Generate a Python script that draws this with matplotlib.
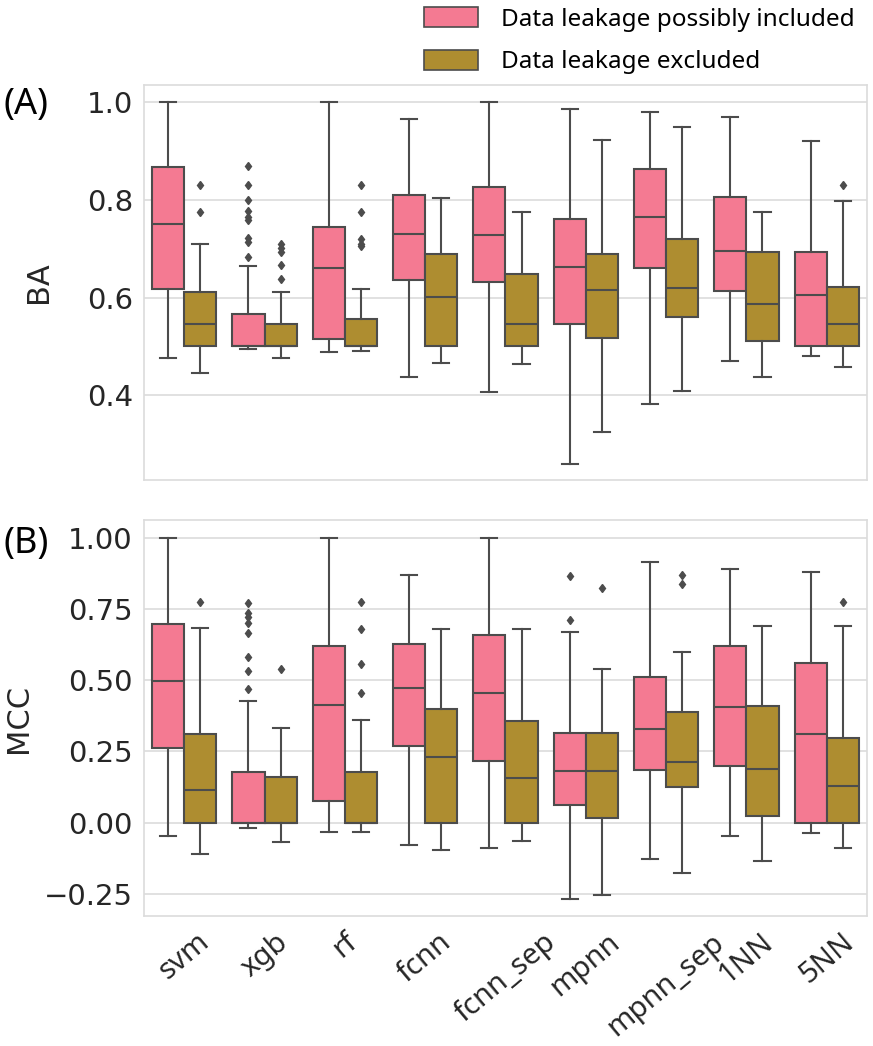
import matplotlib.pyplot as plt
from matplotlib.patches import Patch

# modele na osi x
models = ['svm', 'xgb', 'rf', 'fcnn', 'fcnn_sep', 'mpnn', 'mpnn_sep', '1NN', '5NN']
groups = ['Data leakage possibly included', 'Data leakage excluded']

# BA - data leakage possibly included
ba_inc_lo = [0.476, 0.495, 0.488, 0.438, 0.407, 0.260, 0.382, 0.471, 0.480]
ba_inc_q1 = [0.617, 0.500, 0.515, 0.636, 0.632, 0.546, 0.660, 0.613, 0.500]
ba_inc_med = [0.751, 0.500, 0.661, 0.731, 0.729, 0.662, 0.764, 0.696, 0.606]
ba_inc_q3 = [0.867, 0.566, 0.744, 0.810, 0.826, 0.761, 0.863, 0.807, 0.693]
ba_inc_hi = [1.000, 0.664, 1.000, 0.966, 1.000, 0.986, 0.981, 0.969, 0.921]
ba_inc_fliers = [[], [0.869, 0.831, 0.800, 0.778, 0.766, 0.759, 0.721, 0.714, 0.684],
                 [], [], [], [], [], [], []]

# BA - data leakage excluded
ba_exc_lo = [0.445, 0.476, 0.491, 0.465, 0.463, 0.324, 0.408, 0.437, 0.458]
ba_exc_q1 = [0.500, 0.500, 0.500, 0.500, 0.500, 0.517, 0.561, 0.512, 0.500]
ba_exc_med = [0.546, 0.500, 0.500, 0.601, 0.546, 0.616, 0.619, 0.586, 0.545]
ba_exc_q3 = [0.611, 0.546, 0.556, 0.689, 0.649, 0.690, 0.720, 0.693, 0.622]
ba_exc_hi = [0.709, 0.611, 0.617, 0.804, 0.776, 0.923, 0.950, 0.776, 0.797]
ba_exc_fliers = [[0.831, 0.776], [0.709, 0.701, 0.694, 0.667, 0.638],
                 [0.831, 0.776, 0.720, 0.710, 0.705], [], [], [], [], [], [0.831]]

# MCC - data leakage possibly included
mcc_inc_lo = [-0.048, -0.018, -0.034, -0.080, -0.088, -0.267, -0.129, -0.048, -0.036]
mcc_inc_q1 = [0.260, 0.000, 0.075, 0.267, 0.216, 0.060, 0.183, 0.199, 0.000]
mcc_inc_med = [0.496, 0.000, 0.413, 0.472, 0.455, 0.181, 0.329, 0.406, 0.309]
mcc_inc_q3 = [0.697, 0.179, 0.620, 0.625, 0.659, 0.314, 0.510, 0.618, 0.561]
mcc_inc_hi = [1.000, 0.425, 1.000, 0.870, 1.000, 0.670, 0.914, 0.890, 0.878]
mcc_inc_fliers = [[], [0.769, 0.734, 0.720, 0.701, 0.666, 0.582, 0.533, 0.469],
                  [], [], [], [0.866, 0.711], [], [], []]

# MCC - data leakage excluded
mcc_exc_lo = [-0.111, -0.068, -0.032, -0.095, -0.066, -0.254, -0.177, -0.136, -0.091]
mcc_exc_q1 = [0.000, 0.000, 0.000, 0.000, 0.000, 0.016, 0.124, 0.023, 0.000]
mcc_exc_med = [0.113, 0.000, 0.000, 0.230, 0.156, 0.181, 0.213, 0.188, 0.127]
mcc_exc_q3 = [0.309, 0.159, 0.179, 0.400, 0.357, 0.314, 0.389, 0.409, 0.298]
mcc_exc_hi = [0.681, 0.332, 0.360, 0.680, 0.680, 0.540, 0.597, 0.691, 0.688]
mcc_exc_fliers = [[0.775], [0.540], [0.775, 0.678, 0.556, 0.454], [], [],
                  [0.824], [0.868, 0.836], [], [0.775]]

colors = ['#f47a92', '#ae8d30']
line_col = '#4c4c4c'
grid_col = '#dcdcdc'
text_font = ['Noto Sans', 'DejaVu Sans']


def make_stats(lo, q1, med, q3, hi, fliers):
    stats = []
    for i in range(len(lo)):
        stats.append({'whislo': lo[i], 'q1': q1[i], 'med': med[i], 'q3': q3[i],
                      'whishi': hi[i], 'fliers': fliers[i]})
    return stats


def draw_panel(ax, inc, exc):
    for k, st in enumerate([inc, exc]):
        pos = [i - 0.2 + 0.4 * k for i in range(len(models))]
        ax.bxp(st, positions=pos, widths=0.4, patch_artist=True, manage_ticks=False,
               boxprops=dict(facecolor=colors[k], edgecolor=line_col, linewidth=1.5),
               medianprops=dict(color=line_col, linewidth=1.5),
               whiskerprops=dict(color=line_col, linewidth=1.5),
               capprops=dict(color=line_col, linewidth=1.5),
               flierprops=dict(marker='d', markersize=4.5, markerfacecolor=line_col,
                               markeredgecolor=line_col, linestyle='none'))
    ax.set_xlim(-0.5, len(models) - 0.5)
    ax.grid(axis='y', color=grid_col, linewidth=1.2)
    ax.set_axisbelow(True)
    for s in ax.spines.values():
        s.set_color(grid_col)
        s.set_linewidth(1.2)
    ax.tick_params(axis='both', length=0, labelsize=21, colors='#262626', pad=8)


fig = plt.figure(figsize=(8.73, 10.46), dpi=100)
ax1 = fig.add_axes([0.165, 0.541, 0.828, 0.378])
ax2 = fig.add_axes([0.165, 0.124, 0.828, 0.379])

draw_panel(ax1, make_stats(ba_inc_lo, ba_inc_q1, ba_inc_med, ba_inc_q3, ba_inc_hi, ba_inc_fliers),
           make_stats(ba_exc_lo, ba_exc_q1, ba_exc_med, ba_exc_q3, ba_exc_hi, ba_exc_fliers))
draw_panel(ax2, make_stats(mcc_inc_lo, mcc_inc_q1, mcc_inc_med, mcc_inc_q3, mcc_inc_hi, mcc_inc_fliers),
           make_stats(mcc_exc_lo, mcc_exc_q1, mcc_exc_med, mcc_exc_q3, mcc_exc_hi, mcc_exc_fliers))

ax1.set_ylim(0.226, 1.036)
ax1.set_yticks([0.4, 0.6, 0.8, 1.0])
ax1.set_xticks(range(len(models)))
ax1.set_xticklabels([])
ax1.set_ylabel('BA', fontsize=22, color='#262626')
ax1.yaxis.set_label_coords(-0.126, 0.5)

ax2.set_ylim(-0.329, 1.062)
ax2.set_yticks([-0.25, 0.0, 0.25, 0.5, 0.75, 1.0])
ax2.set_yticklabels(['\u22120.25', '0.00', '0.25', '0.50', '0.75', '1.00'])
ax2.set_xticks(range(len(models)))
ax2.set_xticklabels(models, rotation=40, ha='center', family=text_font, fontsize=21)
ax2.set_ylabel('MCC', fontsize=22, color='#262626')
ax2.yaxis.set_label_coords(-0.154, 0.5)

fig.text(0.004, 0.9, '(A)', fontsize=26, family=text_font, va='center')
fig.text(0.004, 0.48, '(B)', fontsize=26, family=text_font, va='center')

handles = [Patch(facecolor=colors[k], edgecolor=line_col, linewidth=1.2, label=groups[k])
           for k in range(2)]
fig.legend(handles=handles, loc='upper right', bbox_to_anchor=(1.004, 1.014), frameon=False,
           prop={'family': text_font, 'size': 17.5}, handlelength=2.2, handleheight=0.9,
           handletextpad=0.95, labelspacing=0.75)

fig.savefig('out.png', dpi=100)
